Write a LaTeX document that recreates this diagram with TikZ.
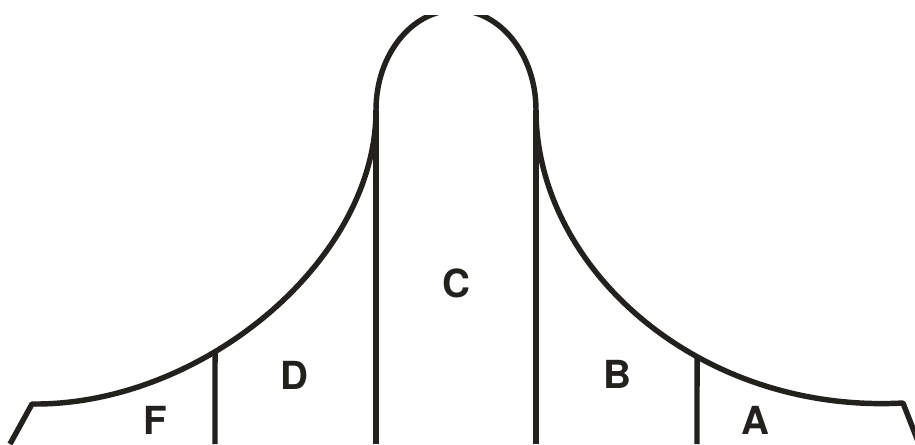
\documentclass[tikz,border=0pt]{standalone}
\usepackage{fontspec}
\setmainfont{TeX Gyre Heros}
\usepackage{tikz}
\usetikzlibrary{intersections}
\usepackage{xcolor}
\definecolor{ink}{RGB}{35,33,30}
\tikzset{
  zone/.style={font=\bfseries\fontsize{22}{26}\selectfont, text=ink, inner sep=0pt},
}

\begin{document}
\begin{tikzpicture}[x=0.02cm, y=0.02cm, line width=3.1pt, color=ink, line join=round]
  \useasboundingbox (0,0) rectangle (915,444);
  % outline corners and joints
  \coordinate (l0) at (10,0);
  \coordinate (l1) at (32,40);
  \coordinate (lc) at (376,334);
  \coordinate (rc) at (536,334);
  \coordinate (r1) at (903,41);
  \coordinate (r0) at (919,0);
  % foot of the dividers
  \coordinate (lfb) at (215,0);
  \coordinate (lcb) at (376,0);
  \coordinate (rcb) at (536,0);
  \coordinate (rfb) at (697,0);
  \begin{scope}
    \clip (0,0) rectangle (915,429);
    \draw[name path global=outline] (l0) -- (l1)
      .. controls (200,38) and (376,182) .. (lc)
      arc[start angle=180, end angle=0, x radius=80, y radius=100]
      .. controls (536,175) and (700,30) .. (r1)
      -- (r0);
  \end{scope}
  \path[name path=divF] (lfb) -- (215,300);
  \path[name path=divA] (rfb) -- (697,300);
  \path[name intersections={of=outline and divF, by=lf}];
  \path[name intersections={of=outline and divA, by=rf}];
  \draw (lfb) -- (lf);
  \draw (lcb) -- (lc);
  \draw (rcb) -- (rc);
  \draw (rfb) -- (rf);
  \node[zone] (F) at (155,24) {F};
  \node[zone] (D) at (294,69) {D};
  \node[zone] (C) at (456,161) {C};
  \node[zone] (B) at (617,70) {B};
  \node[zone] (A) at (755,24) {A};
\end{tikzpicture}
\end{document}
